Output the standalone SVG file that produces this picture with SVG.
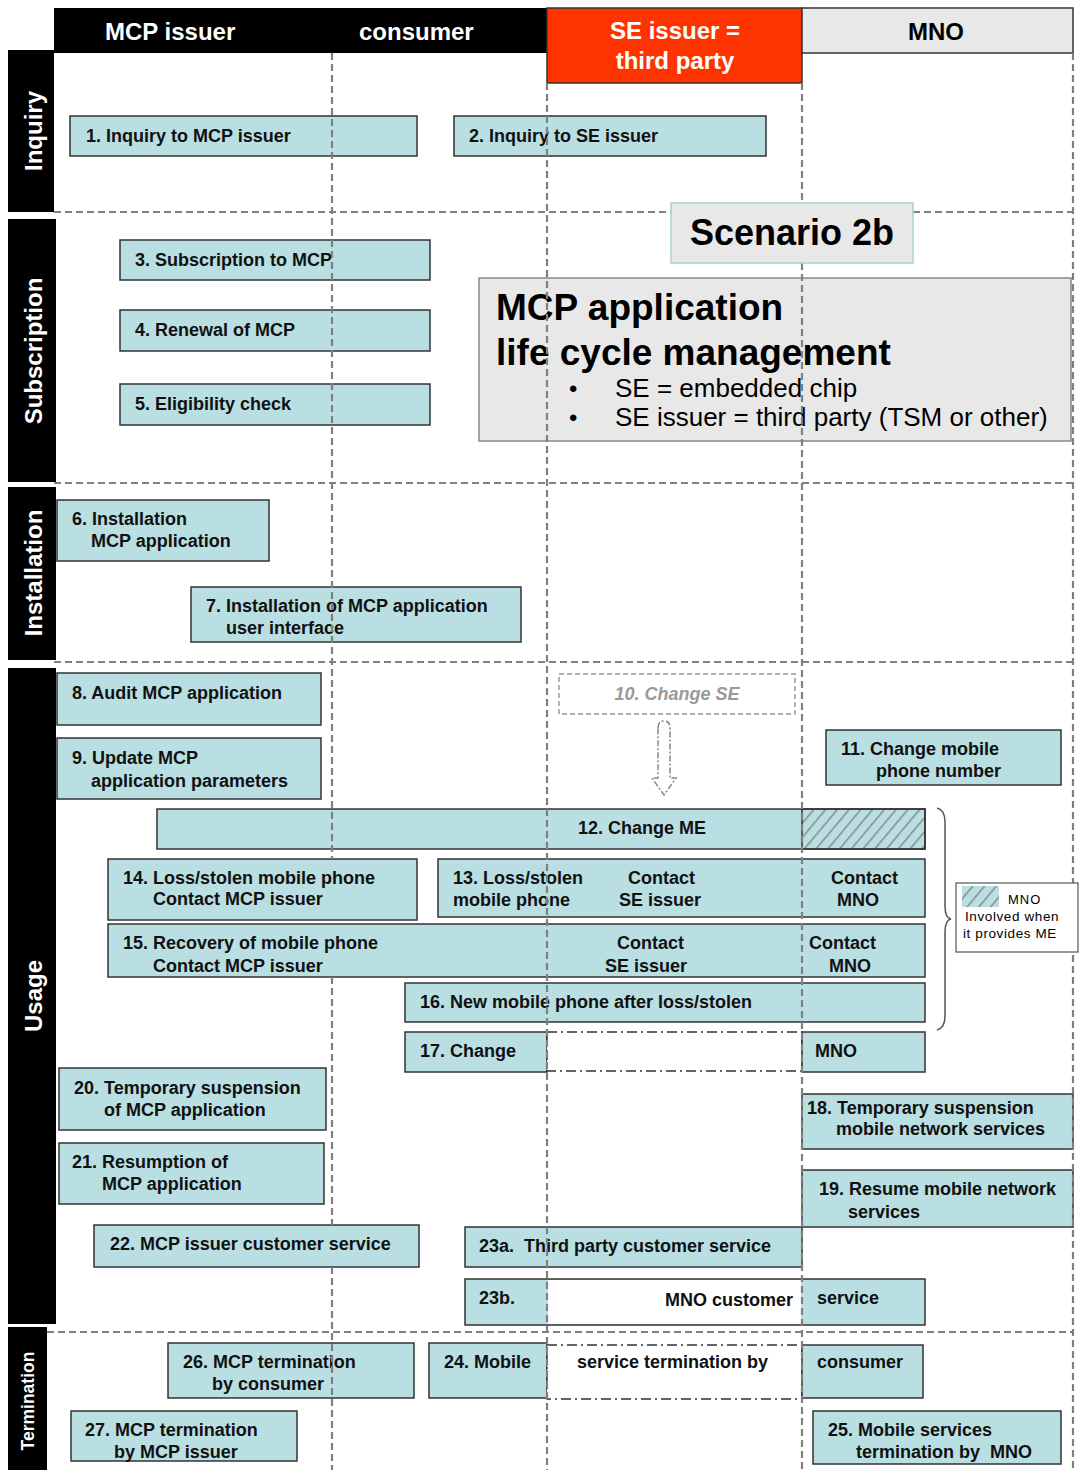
<svg xmlns="http://www.w3.org/2000/svg" width="1079" height="1470" viewBox="0 0 1079 1470">
<style>
text{font-family:"Liberation Sans",Arial,sans-serif}
.n{fill:#b9dfe2;stroke:#333;stroke-width:1.5}
.t{font-size:18px;font-weight:bold;fill:#111}
.h{font-size:24px;font-weight:bold}
.lane{fill:#000}
.lt{font-size:24px;font-weight:bold;fill:#fff;text-anchor:middle}
.g{stroke:#808080;stroke-width:2.2;stroke-dasharray:7 4;fill:none}
.dd{fill:#fff;stroke:#333;stroke-width:1.5;stroke-dasharray:10 4 2 4}
</style>
<defs>
<pattern id="hatch" patternUnits="userSpaceOnUse" width="9" height="9" patternTransform="rotate(40)">
<rect width="9" height="9" fill="#b9dfe2"/>
<line x1="0" y1="0" x2="0" y2="9" stroke="#8a8a8a" stroke-width="3"/>
</pattern>
</defs>
<rect width="1079" height="1470" fill="#fff"/>

<g id="header">
<rect x="54" y="8" width="494" height="45" fill="#000"/>
<text x="105" y="40" class="h" fill="#fff">MCP issuer</text>
<text x="359" y="40" class="h" fill="#fff">consumer</text>
<rect x="547" y="8" width="255" height="75" fill="#ff3300" stroke="#333" stroke-width="1.5"/>
<text x="675" y="39" class="h" fill="#fff" text-anchor="middle">SE issuer =</text>
<text x="675" y="69" class="h" fill="#fff" text-anchor="middle">third party</text>
<rect x="802" y="8" width="271" height="45" fill="#e8e8e8" stroke="#333" stroke-width="1.5"/>
<text x="936" y="40" class="h" fill="#000" text-anchor="middle">MNO</text>
</g>

<g id="lanes">
<rect class="lane" x="8" y="50" width="46" height="162"/>
<text class="lt" transform="translate(33,131) rotate(-90)" dy="0.36em">Inquiry</text>
<rect class="lane" x="8" y="219" width="48" height="263"/>
<text class="lt" transform="translate(33,351) rotate(-90)" dy="0.36em">Subscription</text>
<rect class="lane" x="8" y="487" width="48" height="173"/>
<text class="lt" transform="translate(33,573) rotate(-90)" dy="0.36em">Installation</text>
<rect class="lane" x="8" y="668" width="48" height="656"/>
<text class="lt" transform="translate(33,996) rotate(-90)" dy="0.36em">Usage</text>
<rect class="lane" x="8" y="1327" width="39" height="143"/>
<text class="lt" style="font-size:17.5px" transform="translate(28,1401) rotate(-90)" dy="0.36em">Termination</text>
</g>

<g id="scenario">
<rect x="479" y="278" width="592" height="163" fill="#e8e8e8" stroke="#888" stroke-width="1.5"/>
<text x="496" y="320" style="font-size:37px;font-weight:bold">MCP application</text>
<text x="496" y="365" style="font-size:37px;font-weight:bold">life cycle management</text>
<text x="569" y="397" style="font-size:24px">•</text>
<text x="615" y="397" style="font-size:26px">SE = embedded chip</text>
<text x="569" y="426" style="font-size:24px">•</text>
<text x="615" y="426" style="font-size:26px">SE issuer = third party (TSM or other)</text>
</g>

<g id="n1"><rect class="n" x="70" y="116" width="347" height="40"/><text class="t" x="86" y="142">1. Inquiry to MCP issuer</text></g>
<g id="n2"><rect class="n" x="454" y="116" width="312" height="40"/><text class="t" x="469" y="142">2. Inquiry to SE issuer</text></g>
<g id="n3"><rect class="n" x="120" y="240" width="310" height="40"/><text class="t" x="135" y="266">3. Subscription to MCP</text></g>
<g id="n4"><rect class="n" x="120" y="310" width="310" height="41"/><text class="t" x="135" y="336">4. Renewal of MCP</text></g>
<g id="n5"><rect class="n" x="120" y="384" width="310" height="41"/><text class="t" x="135" y="410">5. Eligibility check</text></g>
<g id="n6"><rect class="n" x="57" y="500" width="212" height="61"/><text class="t" x="72" y="525">6. Installation</text><text class="t" x="91" y="547">MCP application</text></g>
<g id="n7"><rect class="n" x="191" y="587" width="330" height="55"/><text class="t" x="206" y="612">7. Installation of MCP application</text><text class="t" x="226" y="634">user interface</text></g>
<g id="n8"><rect class="n" x="57" y="673" width="264" height="52"/><text class="t" x="72" y="699">8. Audit MCP application</text></g>
<g id="n9"><rect class="n" x="57" y="738" width="264" height="61"/><text class="t" x="72" y="764">9. Update MCP</text><text class="t" x="91" y="787">application parameters</text></g>
<g id="n10"><rect x="559" y="674" width="236" height="40" fill="#fff" stroke="#999" stroke-width="1.5" stroke-dasharray="5 3"/><text x="677" y="700" text-anchor="middle" style="font-size:18px;font-weight:bold;font-style:italic;fill:#999">10. Change SE</text></g>
<g id="n11"><rect class="n" x="826" y="730" width="235" height="55"/><text class="t" x="841" y="755">11. Change mobile</text><text class="t" x="876" y="777">phone number</text></g>
<g id="n12"><rect class="n" x="157" y="809" width="768" height="40"/><rect x="802" y="810" width="122" height="38" fill="url(#hatch)"/><rect x="802" y="809" width="123" height="40" fill="none" stroke="#333" stroke-width="1.5"/><text class="t" x="578" y="834">12. Change ME</text></g>
<g id="n14"><rect class="n" x="108" y="859" width="309" height="61"/><text class="t" x="123" y="884">14. Loss/stolen mobile phone</text><text class="t" x="153" y="905">Contact MCP issuer</text></g>
<g id="n13"><rect class="n" x="438" y="859" width="487" height="58"/><text class="t" x="453" y="884">13. Loss/stolen</text><text class="t" x="453" y="906">mobile phone</text><text class="t" x="628" y="884">Contact</text><text class="t" x="619" y="906">SE issuer</text><text class="t" x="831" y="884">Contact</text><text class="t" x="837" y="906">MNO</text></g>
<g id="n15"><rect class="n" x="108" y="924" width="817" height="53"/><text class="t" x="123" y="949">15. Recovery of mobile phone</text><text class="t" x="153" y="972">Contact MCP issuer</text><text class="t" x="617" y="949">Contact</text><text class="t" x="605" y="972">SE issuer</text><text class="t" x="809" y="949">Contact</text><text class="t" x="829" y="972">MNO</text></g>
<g id="n16"><rect class="n" x="405" y="983" width="520" height="39"/><text class="t" x="420" y="1008">16. New mobile phone after loss/stolen</text></g>
<g id="n17"><rect class="n" x="405" y="1032" width="142" height="40"/><rect class="dd" x="547" y="1032" width="255" height="39"/><rect class="n" x="802" y="1032" width="123" height="40"/><text class="t" x="420" y="1057">17. Change</text><text class="t" x="815" y="1057">MNO</text></g>
<g id="n18"><rect class="n" x="802" y="1094" width="271" height="55"/><text class="t" x="807" y="1114">18. Temporary suspension</text><text class="t" x="836" y="1135">mobile network services</text></g>
<g id="n19"><rect class="n" x="802" y="1170" width="271" height="57"/><text class="t" x="819" y="1195">19. Resume mobile network</text><text class="t" x="848" y="1218">services</text></g>
<g id="n20"><rect class="n" x="59" y="1068" width="267" height="62"/><text class="t" x="74" y="1094">20. Temporary suspension</text><text class="t" x="104" y="1116">of MCP application</text></g>
<g id="n21"><rect class="n" x="59" y="1143" width="265" height="61"/><text class="t" x="72" y="1168">21. Resumption of</text><text class="t" x="102" y="1190">MCP application</text></g>
<g id="n22"><rect class="n" x="94" y="1225" width="325" height="42"/><text class="t" x="110" y="1250">22. MCP issuer customer service</text></g>
<g id="n23a"><rect class="n" x="465" y="1227" width="337" height="40"/><text class="t" x="479" y="1252" xml:space="preserve">23a.  Third party customer service</text></g>
<g id="n23b"><rect class="n" x="465" y="1279" width="460" height="46"/><rect x="548" y="1280" width="253" height="44" fill="#fff"/><text class="t" x="479" y="1304">23b.</text><text class="t" x="793" y="1306" text-anchor="end">MNO customer</text><text class="t" x="817" y="1304">service</text></g>
<g id="n26"><rect class="n" x="168" y="1343" width="246" height="55"/><text class="t" x="183" y="1368">26. MCP termination</text><text class="t" x="212" y="1390">by consumer</text></g>
<g id="n24"><rect class="n" x="429" y="1343" width="118" height="55"/><rect class="dd" x="547" y="1345" width="255" height="54"/><rect class="n" x="802" y="1345" width="121" height="53"/><text class="t" x="444" y="1368">24. Mobile</text><text class="t" x="577" y="1368">service termination by</text><text class="t" x="817" y="1368">consumer</text></g>
<g id="n27"><rect class="n" x="71" y="1411" width="226" height="50"/><text class="t" x="85" y="1436">27. MCP termination</text><text class="t" x="114" y="1458">by MCP issuer</text></g>
<g id="n25"><rect class="n" x="813" y="1411" width="248" height="53"/><text class="t" x="828" y="1436">25. Mobile services</text><text class="t" x="856" y="1458" xml:space="preserve">termination by  MNO</text></g>

<g id="grid">
<line class="g" x1="54" y1="212" x2="671" y2="212"/>
<line class="g" x1="913" y1="212" x2="1073" y2="212"/>
<line class="g" x1="54" y1="483" x2="1073" y2="483"/>
<line class="g" x1="54" y1="662" x2="1073" y2="662"/>
<line class="g" x1="47" y1="1332" x2="1073" y2="1332"/>
<line class="g" x1="332" y1="53" x2="332" y2="859"/>
<line class="g" x1="332" y1="977" x2="332" y2="1225"/>
<line class="g" x1="332" y1="1267" x2="332" y2="1470"/>
<line class="g" x1="547" y1="83" x2="547" y2="1470"/>
<line class="g" x1="802" y1="83" x2="802" y2="203"/>
<line class="g" x1="802" y1="263" x2="802" y2="1470"/>
<line class="g" x1="1073" y1="53" x2="1073" y2="1470"/>
</g>

<g id="legend">
<rect x="956" y="883" width="122" height="69" fill="#fff" stroke="#555" stroke-width="1.2"/>
<rect x="962" y="886" width="37" height="21" fill="url(#hatch)"/>
<text x="1008" y="904" style="font-size:13px;letter-spacing:1px">MNO</text>
<text x="965" y="921" style="font-size:13.5px;letter-spacing:0.6px">Involved when</text>
<text x="963" y="938" style="font-size:13.5px;letter-spacing:0.6px">it provides ME</text>
</g>

<g id="connectors">
<path d="M658,728 Q658,721 664,721 Q670,721 670,728 L670,778 L676,778 L664,795 L652,778 L658,778 Z" fill="#fff" stroke="#888" stroke-width="1.5" stroke-dasharray="6 2 2 2"/>
<path d="M937,808 Q945,810 945,822 L945,906 Q945,918 951,919 Q945,920 945,932 L945,1016 Q945,1028 937,1030" fill="none" stroke="#555" stroke-width="1.5"/>
</g>

<g id="scenario-title">
<rect x="671" y="203" width="242" height="60" fill="#e8e8e8" stroke="#a8d0d4" stroke-width="1.5"/>
<text x="792" y="245" text-anchor="middle" style="font-size:36px;font-weight:bold">Scenario 2b</text>
</g>
</svg>
